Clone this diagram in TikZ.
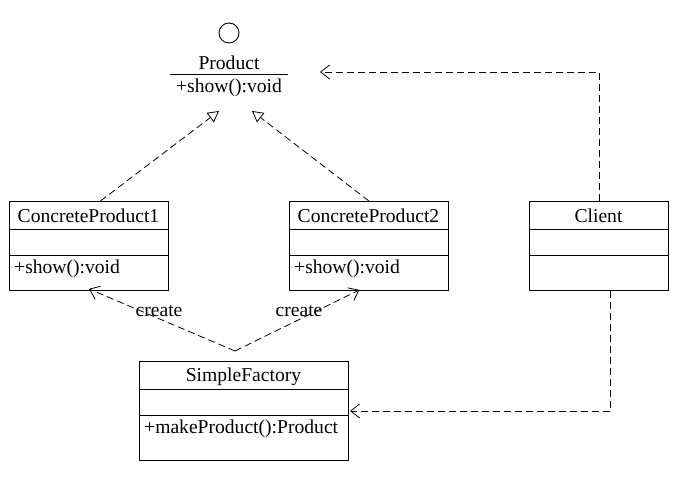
\documentclass[tikz,border=0pt]{standalone}
\usepackage{fontspec}
\setmainfont{Liberation Serif}
\usetikzlibrary{arrows.meta,calc}
\begin{document}
\begin{tikzpicture}[x=1pt,y=-1pt,
  every node/.style={font=\fontsize{19.6}{23}\selectfont},
  boxline/.style={line width=0.9pt},
  clsbox/.style={draw, boxline, inner sep=0pt, anchor=north west},
  dep/.style={line width=0.8pt, dash pattern=on 7pt off 4pt, -{Straight Barb[length=9pt,width=14pt,line width=0.8pt]}},
  gen/.style={line width=0.8pt, dash pattern=on 7pt off 4pt, -{Triangle[open,length=11pt,width=12pt,line width=0.8pt]}},
  ttl/.style={inner sep=0pt, anchor=center},
  mth/.style={inner sep=0pt, anchor=west}]
\useasboundingbox (0,0) rectangle (693,481);

% Product interface
\node[draw, circle, boxline, minimum size=20pt, inner sep=0pt] (iface) at (229,33) {};
\node[ttl] (pname) at (229,63) {Product};
\coordinate (pl) at (170,74);
\coordinate (pr) at (288,74);
\draw[boxline] (pl) -- (pr);
\node[ttl] (pmeth) at (229,88) {+show():void};
\coordinate (genL) at (219,111);
\coordinate (genR) at (252,111);
\coordinate (depP) at (320,72);

% ConcreteProduct1
\node[clsbox, minimum width=159pt, minimum height=89pt] (cp1) at (9,201) {};
\draw[boxline] (9,229) -- (168,229);
\draw[boxline] (9,255) -- (168,255);
\node[ttl] (cp1t) at (88.5,216) {ConcreteProduct1};
\node[mth] (cp1m) at (14,269) {+show():void};

% ConcreteProduct2
\node[clsbox, minimum width=159pt, minimum height=89pt] (cp2) at (289,201) {};
\draw[boxline] (289,229) -- (448,229);
\draw[boxline] (289,255) -- (448,255);
\node[ttl] (cp2t) at (368.5,216) {ConcreteProduct2};
\node[mth] (cp2m) at (294,269) {+show():void};

% Client
\node[clsbox, minimum width=139pt, minimum height=89pt] (cl) at (529,201) {};
\draw[boxline] (529,229) -- (668,229);
\draw[boxline] (529,255) -- (668,255);
\node[ttl] (clt) at (598.5,216) {Client};

% SimpleFactory
\node[clsbox, minimum width=209pt, minimum height=99pt] (sf) at (139,361) {};
\draw[boxline] (139,389) -- (348,389);
\draw[boxline] (139,415) -- (348,415);
\node[ttl] (sft) at (243.5,377) {SimpleFactory};
\node[mth] (sfm) at (144,429) {+makeProduct():Product};

% generalisations
\draw[gen] ([xshift=11.5pt]cp1.north) -- (genL);
\draw[gen] (cp2.north) -- (genR);

% client dependencies
\draw[dep] (cl.north) |- (depP);
\coordinate (sfin) at (350,411);
\draw[dep] ([xshift=11.5pt]cl.south) |- (sfin);

% create dependencies
\coordinate (apex) at (235,351);
\draw[dep] (apex) -- ([yshift=2pt]cp1.south);
\draw[dep] (apex) -- ([xshift=-9.5pt,yshift=1pt]cp2.south);
\node[ttl] (c1) at (159,311) {create};
\node[ttl] (c2) at (299,311) {create};
\end{tikzpicture}
\end{document}
